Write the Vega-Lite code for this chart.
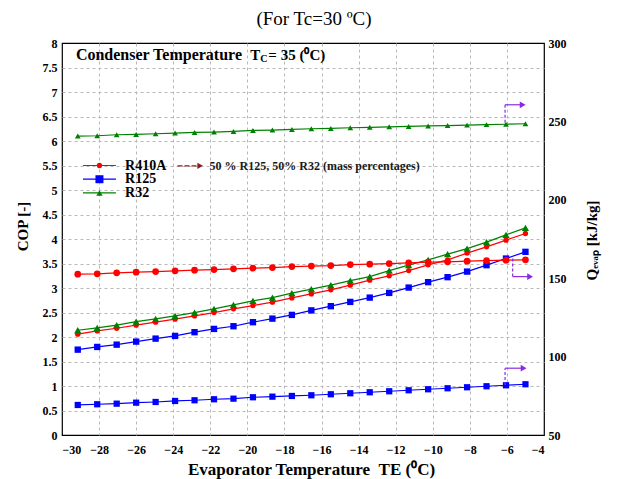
{
  "$schema": "https://vega.github.io/schema/vega-lite/v6.json",
  "width": 482,
  "height": 392,
  "autosize": {"type": "none"},
  "padding": {"left": 62, "top": 43, "right": 85, "bottom": 44},
  "background": "white",
  "title": {"text": "(For Tc=30 ºC)", "font": "Liberation Serif", "fontSize": 19, "fontWeight": "normal", "color": "black", "offset": 8, "dx": 11},
  "config": {
    "view": {"stroke": "black", "strokeWidth": 1.2},
    "axis": {
      "labelFont": "Liberation Serif", "labelFontWeight": "bold", "labelFontSize": 12, "labelColor": "black",
      "titleFont": "Liberation Serif", "titleFontWeight": "bold", "titleFontSize": 15, "titleColor": "black",
      "domain": false, "tickColor": "black", "gridColor": "#b8b8b8", "gridDash": [3, 3], "labelOverlap": false
    }
  },
  "data": {"values": [
    {"T":-29.15,"series":"R410A","COP":2.057,"Q":152.57},
    {"T":-28.1,"series":"R410A","COP":2.124,"Q":152.77},
    {"T":-27.05,"series":"R410A","COP":2.179,"Q":153.41},
    {"T":-26.0,"series":"R410A","COP":2.241,"Q":153.85},
    {"T":-24.95,"series":"R410A","COP":2.302,"Q":154.24},
    {"T":-23.9,"series":"R410A","COP":2.363,"Q":154.68},
    {"T":-22.85,"series":"R410A","COP":2.431,"Q":155.13},
    {"T":-21.8,"series":"R410A","COP":2.498,"Q":155.51},
    {"T":-20.75,"series":"R410A","COP":2.574,"Q":155.96},
    {"T":-19.7,"series":"R410A","COP":2.641,"Q":156.40},
    {"T":-18.65,"series":"R410A","COP":2.710,"Q":156.79},
    {"T":-17.6,"series":"R410A","COP":2.798,"Q":157.43},
    {"T":-16.55,"series":"R410A","COP":2.880,"Q":157.75},
    {"T":-15.5,"series":"R410A","COP":2.962,"Q":158.07},
    {"T":-14.45,"series":"R410A","COP":3.058,"Q":158.71},
    {"T":-13.4,"series":"R410A","COP":3.160,"Q":158.96},
    {"T":-12.35,"series":"R410A","COP":3.248,"Q":159.34},
    {"T":-11.3,"series":"R410A","COP":3.356,"Q":159.79},
    {"T":-10.25,"series":"R410A","COP":3.472,"Q":160.24},
    {"T":-9.2,"series":"R410A","COP":3.574,"Q":160.43},
    {"T":-8.15,"series":"R410A","COP":3.711,"Q":160.87},
    {"T":-7.1,"series":"R410A","COP":3.840,"Q":161.26},
    {"T":-6.05,"series":"R410A","COP":3.977,"Q":161.51},
    {"T":-5.0,"series":"R410A","COP":4.112,"Q":161.70},
    {"T":-29.15,"series":"R125","COP":1.742,"Q":69.15},
    {"T":-28.1,"series":"R125","COP":1.797,"Q":69.60},
    {"T":-27.05,"series":"R125","COP":1.844,"Q":69.98},
    {"T":-26.0,"series":"R125","COP":1.906,"Q":70.62},
    {"T":-24.95,"series":"R125","COP":1.967,"Q":71.06},
    {"T":-23.9,"series":"R125","COP":2.022,"Q":71.70},
    {"T":-22.85,"series":"R125","COP":2.098,"Q":72.15},
    {"T":-21.8,"series":"R125","COP":2.165,"Q":72.79},
    {"T":-20.75,"series":"R125","COP":2.220,"Q":73.17},
    {"T":-19.7,"series":"R125","COP":2.302,"Q":74.07},
    {"T":-18.65,"series":"R125","COP":2.375,"Q":74.45},
    {"T":-17.6,"series":"R125","COP":2.451,"Q":74.89},
    {"T":-16.55,"series":"R125","COP":2.543,"Q":75.34},
    {"T":-15.5,"series":"R125","COP":2.629,"Q":75.98},
    {"T":-14.45,"series":"R125","COP":2.716,"Q":76.62},
    {"T":-13.4,"series":"R125","COP":2.804,"Q":77.26},
    {"T":-12.35,"series":"R125","COP":2.900,"Q":77.89},
    {"T":-11.3,"series":"R125","COP":3.009,"Q":78.53},
    {"T":-10.25,"series":"R125","COP":3.119,"Q":79.17},
    {"T":-9.2,"series":"R125","COP":3.221,"Q":79.81},
    {"T":-8.15,"series":"R125","COP":3.335,"Q":80.45},
    {"T":-7.1,"series":"R125","COP":3.466,"Q":81.09},
    {"T":-6.05,"series":"R125","COP":3.601,"Q":81.72},
    {"T":-5.0,"series":"R125","COP":3.738,"Q":82.36},
    {"T":-29.15,"series":"R32","COP":2.138,"Q":240.66},
    {"T":-28.1,"series":"R32","COP":2.185,"Q":240.85},
    {"T":-27.05,"series":"R32","COP":2.241,"Q":241.49},
    {"T":-26.0,"series":"R32","COP":2.314,"Q":241.68},
    {"T":-24.95,"series":"R32","COP":2.369,"Q":242.13},
    {"T":-23.9,"series":"R32","COP":2.431,"Q":242.57},
    {"T":-22.85,"series":"R32","COP":2.498,"Q":242.96},
    {"T":-21.8,"series":"R32","COP":2.574,"Q":243.21},
    {"T":-20.75,"series":"R32","COP":2.655,"Q":243.60},
    {"T":-19.7,"series":"R32","COP":2.737,"Q":244.23},
    {"T":-18.65,"series":"R32","COP":2.804,"Q":244.49},
    {"T":-17.6,"series":"R32","COP":2.894,"Q":244.87},
    {"T":-16.55,"series":"R32","COP":2.976,"Q":245.32},
    {"T":-15.5,"series":"R32","COP":3.058,"Q":245.51},
    {"T":-14.45,"series":"R32","COP":3.152,"Q":245.96},
    {"T":-13.4,"series":"R32","COP":3.233,"Q":246.22},
    {"T":-12.35,"series":"R32","COP":3.356,"Q":246.53},
    {"T":-11.3,"series":"R32","COP":3.466,"Q":246.79},
    {"T":-10.25,"series":"R32","COP":3.574,"Q":247.11},
    {"T":-9.2,"series":"R32","COP":3.691,"Q":247.36},
    {"T":-8.15,"series":"R32","COP":3.805,"Q":247.62},
    {"T":-7.1,"series":"R32","COP":3.936,"Q":247.94},
    {"T":-6.05,"series":"R32","COP":4.085,"Q":248.19},
    {"T":-5.0,"series":"R32","COP":4.228,"Q":248.51}
  ]},
  "layer": [
    {
      "layer": [
        {
          "mark": {"type": "line", "strokeWidth": 1.2},
          "encoding": {
            "x": {"field": "T", "type": "quantitative", "scale": {"domain": [-30, -4], "nice": false, "zero": false},
              "axis": {"orient": "bottom", "values": [-30,-26,-22,-18,-14,-10,-6], "title": "Evaporator Temperature\u00a0\u00a0TE (⁰C)", "titleFontSize": 17, "grid": true,
                "gridOpacity": {"condition": {"test": "datum.value > -29.5", "value": 1}, "value": 0},
                "labelOverlap": false, "ticks": false, "labelPadding": 9, "titleX": 249, "titleY": 34, "titleBaseline": "middle"}},
            "y": {"field": "COP", "type": "quantitative", "scale": {"domain": [0, 8], "nice": false, "zero": false},
              "axis": {"orient": "left", "title": "COP [-]",
                "values": [0,1,2,3,4,5,6,7,8],
                "labelOverlap": false,
                "grid": true,
                "gridOpacity": {"condition": {"test": "datum.value > 0.2 && datum.value < 7.8", "value": 1}, "value": 0},
                "ticks": false,
                "labelPadding": 5,
                "titleX": -40, "titleY": 183, "titleBaseline": "middle", "titleAlign": "center"}},
            "color": {"field": "series", "type": "nominal", "scale": {"domain": ["R410A", "R125", "R32"], "range": ["#ff0000", "#0000ff", "#008000"]}, "legend": null}
          }
        },
        {
          "mark": {"type": "point", "filled": true, "opacity": 1},
          "encoding": {
            "x": {"field": "T", "type": "quantitative"},
            "y": {"field": "COP", "type": "quantitative",
              "axis": {"orient": "left", "title": null,
                "values": [0.5,1.5,2.5,3.5,4.5,5.5,6.5,7.5],
                "format": ".1f",
                "labelOverlap": false,
                "grid": true,
                "ticks": false,
                "labelPadding": 5}},
            "color": {"field": "series", "type": "nominal", "scale": {"domain": ["R410A", "R125", "R32"], "range": ["#ff0000", "#0000ff", "#008000"]}, "legend": null},
            "shape": {"field": "series", "type": "nominal", "scale": {"domain": ["R410A", "R125", "R32"], "range": ["circle", "square", "triangle-up"]}, "legend": null},
            "size": {"field": "series", "type": "nominal", "scale": {"domain": ["R410A", "R125", "R32"], "range": [28, 53, 45]}, "legend": null}
          }
        },
        {
          "data": {"values": [{}]},
          "mark": {"type": "rule", "color": "#ff0000", "strokeWidth": 1.2},
          "encoding": {"x": {"datum": -28.87}, "x2": {"datum": -27.09}, "y": {"datum": 5.50, "axis": null}}
        },
        {
          "data": {"values": [{}]},
          "mark": {"type": "point", "shape": "circle", "filled": true, "size": 28, "color": "#ff0000", "opacity": 1},
          "encoding": {"x": {"datum": -27.98}, "y": {"datum": 5.50, "axis": null}}
        },
        {
          "data": {"values": [{}]},
          "mark": {"type": "text", "text": "R410A", "font": "Liberation Serif", "fontSize": 14, "fontWeight": "bold", "align": "left", "baseline": "middle", "color": "black"},
          "encoding": {"x": {"datum": -26.6}, "y": {"datum": 5.50, "axis": null}}
        },
        {
          "data": {"values": [{}]},
          "mark": {"type": "rule", "color": "#0000ff", "strokeWidth": 1.2},
          "encoding": {"x": {"datum": -28.87}, "x2": {"datum": -27.09}, "y": {"datum": 5.22, "axis": null}}
        },
        {
          "data": {"values": [{}]},
          "mark": {"type": "point", "shape": "square", "filled": true, "size": 64, "color": "#0000ff", "opacity": 1},
          "encoding": {"x": {"datum": -27.98}, "y": {"datum": 5.22, "axis": null}}
        },
        {
          "data": {"values": [{}]},
          "mark": {"type": "text", "text": "R125", "font": "Liberation Serif", "fontSize": 14, "fontWeight": "bold", "align": "left", "baseline": "middle", "color": "black"},
          "encoding": {"x": {"datum": -26.6}, "y": {"datum": 5.22, "axis": null}}
        },
        {
          "data": {"values": [{}]},
          "mark": {"type": "rule", "color": "#008000", "strokeWidth": 1.2},
          "encoding": {"x": {"datum": -28.87}, "x2": {"datum": -27.09}, "y": {"datum": 4.94, "axis": null}}
        },
        {
          "data": {"values": [{}]},
          "mark": {"type": "point", "shape": "triangle-up", "filled": true, "size": 40, "color": "#008000", "opacity": 1},
          "encoding": {"x": {"datum": -27.98}, "y": {"datum": 4.94, "axis": null}}
        },
        {
          "data": {"values": [{}]},
          "mark": {"type": "text", "text": "R32", "font": "Liberation Serif", "fontSize": 14, "fontWeight": "bold", "align": "left", "baseline": "middle", "color": "black"},
          "encoding": {"x": {"datum": -26.6}, "y": {"datum": 4.94, "axis": null}}
        },
        {
          "data": {"values": [{}]},
          "mark": {"type": "text", "text": "Condenser Temperature", "font": "Liberation Serif", "fontSize": 16, "fontWeight": "bold", "align": "left", "baseline": "middle", "color": "black"},
          "encoding": {"x": {"datum": -29.25}, "y": {"datum": 7.76, "axis": null}}
        },
        {
          "data": {"values": [{}]},
          "mark": {"type": "text", "text": "T", "font": "Liberation Serif", "fontSize": 15, "fontWeight": "bold", "align": "left", "baseline": "middle", "color": "black"},
          "encoding": {"x": {"datum": -19.84}, "y": {"datum": 7.76, "axis": null}}
        },
        {
          "data": {"values": [{}]},
          "mark": {"type": "text", "text": "C", "font": "Liberation Serif", "fontSize": 10, "fontWeight": "bold", "align": "left", "baseline": "middle", "color": "black", "dy": 4},
          "encoding": {"x": {"datum": -19.31}, "y": {"datum": 7.76, "axis": null}}
        },
        {
          "data": {"values": [{}]},
          "mark": {"type": "text", "text": "= 35 (⁰C)", "font": "Liberation Serif", "fontSize": 15, "fontWeight": "bold", "align": "left", "baseline": "middle", "color": "black"},
          "encoding": {"x": {"datum": -18.87}, "y": {"datum": 7.76, "axis": null}}
        },
        {
          "data": {"values": [{}]},
          "mark": {"type": "rule", "color": "#8b1a1a", "strokeWidth": 1.2, "strokeDash": [5, 2]},
          "encoding": {"x": {"datum": -23.77}, "x2": {"datum": -22.7}, "y": {"datum": 5.494, "axis": null}}
        },
        {
          "data": {"values": [{}]},
          "mark": {"type": "point", "shape": "triangle-right", "filled": true, "size": 40, "color": "#8b1a1a", "opacity": 1},
          "encoding": {"x": {"datum": -22.55}, "y": {"datum": 5.494, "axis": null}}
        },
        {
          "data": {"values": [{}]},
          "mark": {"type": "text", "text": "50 % R125, 50% R32 (mass percentages)", "font": "Liberation Serif", "fontSize": 12, "fontWeight": "bold", "align": "left", "baseline": "middle", "color": "#1a1a1a"},
          "encoding": {"x": {"datum": -22.04}, "y": {"datum": 5.494, "axis": null}}
        }
      ],
      "resolve": {"scale": {"color": "independent", "shape": "independent"}, "axis": {"y": "independent"}}
    },
    {
      "layer": [
        {
          "mark": {"type": "line", "strokeWidth": 1.2},
          "encoding": {
            "x": {"field": "T", "type": "quantitative",
              "axis": {"orient": "bottom", "values": [-28,-24,-20,-16,-12,-8,-4], "title": null, "grid": true,
                "gridOpacity": {"condition": {"test": "datum.value < -4.5", "value": 1}, "value": 0},
                "labelOverlap": false, "ticks": false, "labelPadding": 9}},
            "y": {"field": "Q", "type": "quantitative", "scale": {"domain": [50, 300], "nice": false, "zero": false},
              "axis": {"orient": "right", "values": [50,75,100,125,150,175,200,225,250,275,300], "grid": false, "ticks": false, "labelPadding": 4, "labelOverlap": false,
                "title": "Qₑᵥₐₚ [kJ/kg]", "titleAngle": 270, "titleX": 47, "titleY": 197, "titleBaseline": "middle", "titleAlign": "center"}},
            "color": {"field": "series", "type": "nominal", "scale": {"domain": ["R410A", "R125", "R32"], "range": ["#ff0000", "#0000ff", "#008000"]}, "legend": null}
          }
        },
        {
          "mark": {"type": "point", "filled": true, "opacity": 1},
          "encoding": {
            "x": {"field": "T", "type": "quantitative"},
            "y": {"field": "Q", "type": "quantitative"},
            "color": {"field": "series", "type": "nominal", "scale": {"domain": ["R410A", "R125", "R32"], "range": ["#ff0000", "#0000ff", "#008000"]}, "legend": null},
            "shape": {"field": "series", "type": "nominal", "scale": {"domain": ["R410A", "R125", "R32"], "range": ["circle", "square", "triangle-up"]}, "legend": null},
            "size": {"field": "series", "type": "nominal", "scale": {"domain": ["R410A", "R125", "R32"], "range": [45, 33, 45]}, "legend": null}
          }
        },
        {
          "data": {"values": [{}]},
          "mark": {"type": "rule", "color": "#8a2be2", "strokeWidth": 1.2, "strokeDash": [3, 2]},
          "encoding": {"x": {"datum": -6.1}, "y": {"datum": 249.2}, "y2": {"datum": 260.6}}
        },
        {
          "data": {"values": [{}]},
          "mark": {"type": "rule", "color": "#8a2be2", "strokeWidth": 1.2},
          "encoding": {"x": {"datum": -6.1}, "x2": {"datum": -5.25}, "y": {"datum": 260.6}}
        },
        {
          "data": {"values": [{}]},
          "mark": {"type": "point", "shape": "triangle-right", "filled": true, "size": 45, "color": "#8a2be2", "opacity": 1},
          "encoding": {"x": {"datum": -5.15}, "y": {"datum": 260.6}}
        },
        {
          "data": {"values": [{}]},
          "mark": {"type": "rule", "color": "#8a2be2", "strokeWidth": 1.2, "strokeDash": [3, 2]},
          "encoding": {"x": {"datum": -5.69}, "y": {"datum": 162.5}, "y2": {"datum": 151.0}}
        },
        {
          "data": {"values": [{}]},
          "mark": {"type": "rule", "color": "#8a2be2", "strokeWidth": 1.2},
          "encoding": {"x": {"datum": -5.69}, "x2": {"datum": -4.85}, "y": {"datum": 151.0}}
        },
        {
          "data": {"values": [{}]},
          "mark": {"type": "point", "shape": "triangle-right", "filled": true, "size": 45, "color": "#8a2be2", "opacity": 1},
          "encoding": {"x": {"datum": -4.75}, "y": {"datum": 151.0}}
        },
        {
          "data": {"values": [{}]},
          "mark": {"type": "rule", "color": "#8a2be2", "strokeWidth": 1.2, "strokeDash": [3, 2]},
          "encoding": {"x": {"datum": -6.1}, "y": {"datum": 81.9}, "y2": {"datum": 92.6}}
        },
        {
          "data": {"values": [{}]},
          "mark": {"type": "rule", "color": "#8a2be2", "strokeWidth": 1.2},
          "encoding": {"x": {"datum": -6.1}, "x2": {"datum": -5.2}, "y": {"datum": 92.6}}
        },
        {
          "data": {"values": [{}]},
          "mark": {"type": "point", "shape": "triangle-right", "filled": true, "size": 45, "color": "#8a2be2", "opacity": 1},
          "encoding": {"x": {"datum": -5.1}, "y": {"datum": 92.6}}
        }
      ]
    }
  ],
  "resolve": {"scale": {"y": "independent", "color": "independent", "shape": "independent", "size": "independent"}, "axis": {"x": "independent"}}
}
